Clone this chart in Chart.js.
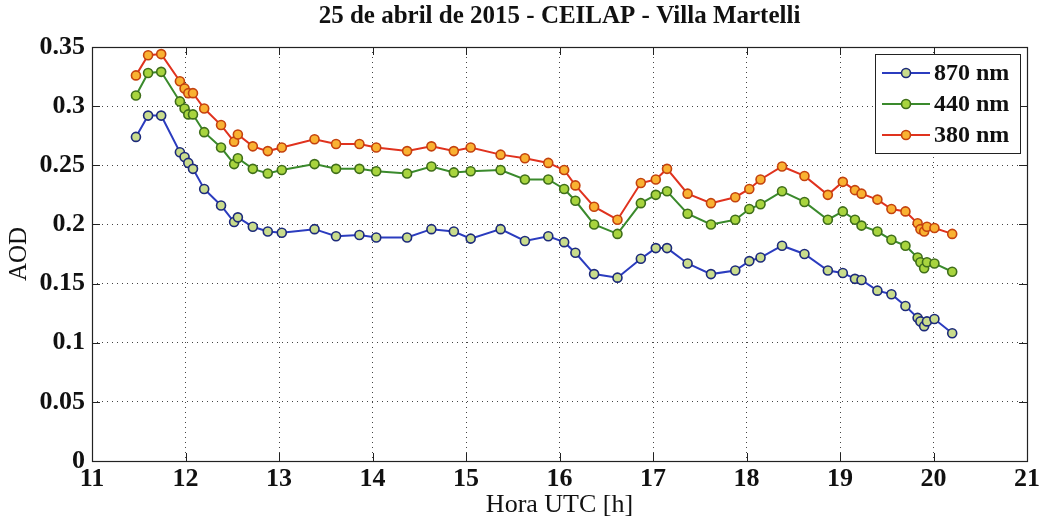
<!DOCTYPE html>
<html>
<head>
<meta charset="utf-8">
<script src="https://cdn.jsdelivr.net/npm/chart.js@4"></script>
<style>
  html, body { margin: 0; padding: 0; background: #fff; }
  #wrap { width: 1043px; height: 522px; }
</style>
</head>
<body>
<div id="wrap"><canvas id="aodChart" width="1043" height="522"></canvas></div>
<script>
//---------------------------------------------
// DATA
//---------------------------------------------
const hours = [11.47, 11.60, 11.74, 11.94, 11.99, 12.03, 12.08, 12.20, 12.38, 12.52,
               12.56, 12.72, 12.88, 13.03, 13.38, 13.61, 13.86, 14.04, 14.37, 14.63,
               14.87, 15.05, 15.37, 15.63, 15.88, 16.05, 16.17, 16.37, 16.62, 16.87,
               17.03, 17.15, 17.37, 17.62, 17.88, 18.03, 18.15, 18.38, 18.62, 18.87,
               19.03, 19.16, 19.23, 19.40, 19.55, 19.70, 19.83, 19.86, 19.90, 19.93,
               20.01, 20.20];

const aod870 = [0.274, 0.292, 0.292, 0.261, 0.257, 0.252, 0.247, 0.230, 0.216, 0.202,
                0.206, 0.198, 0.194, 0.193, 0.196, 0.190, 0.191, 0.189, 0.189, 0.196,
                0.194, 0.188, 0.196, 0.186, 0.190, 0.185, 0.176, 0.158, 0.155, 0.171,
                0.180, 0.180, 0.167, 0.158, 0.161, 0.169, 0.172, 0.182, 0.175, 0.161,
                0.159, 0.154, 0.153, 0.144, 0.141, 0.131, 0.121, 0.118, 0.114, 0.118,
                0.120, 0.108];

const aod440 = [0.309, 0.328, 0.329, 0.304, 0.298, 0.293, 0.293, 0.278, 0.265, 0.251,
                0.256, 0.247, 0.243, 0.246, 0.251, 0.247, 0.247, 0.245, 0.243, 0.249,
                0.244, 0.245, 0.246, 0.238, 0.238, 0.230, 0.220, 0.200, 0.192, 0.218,
                0.225, 0.228, 0.209, 0.200, 0.204, 0.213, 0.217, 0.228, 0.219, 0.204,
                0.211, 0.204, 0.199, 0.194, 0.187, 0.182, 0.172, 0.168, 0.163, 0.168,
                0.167, 0.160];

const aod380 = [0.326, 0.343, 0.344, 0.321, 0.315, 0.311, 0.311, 0.298, 0.284, 0.270,
                0.276, 0.266, 0.262, 0.265, 0.272, 0.268, 0.268, 0.265, 0.262, 0.266,
                0.262, 0.265, 0.259, 0.256, 0.252, 0.246, 0.233, 0.215, 0.204, 0.235,
                0.238, 0.247, 0.226, 0.218, 0.223, 0.230, 0.238, 0.249, 0.241, 0.225,
                0.236, 0.229, 0.226, 0.221, 0.213, 0.211, 0.201, 0.196, 0.194, 0.198,
                0.197, 0.192];

const seriesLabels = ["870 nm", "440 nm", "380 nm"];

const SERIF = "'Liberation Serif', 'Times New Roman', serif";

function toPoints(ys) {
    return hours.map((h, i) => ({ x: h, y: ys[i] }));
}

function makeSet(label, ys, line, fill, edge) {
    return {
        label: label,
        data: toPoints(ys),
        borderColor: line,
        borderWidth: 2,
        pointRadius: 4.5,
        pointBorderWidth: 1.6,
        pointBackgroundColor: fill,
        pointBorderColor: edge,
        tension: 0
    };
}

//---------------------------------------------
// PLUGINS: box + inward ticks, legend box
//---------------------------------------------
const frameTicks = {
    id: "frameTicks",
    afterDatasetsDraw(chart) {
        const { ctx, chartArea: a, scales } = chart;
        ctx.save();
        ctx.strokeStyle = "#222";
        ctx.lineWidth = 1;
        ctx.beginPath();
        scales.x.ticks.forEach(t => {
            const px = Math.round(scales.x.getPixelForValue(t.value)) + 0.5;
            ctx.moveTo(px, a.bottom); ctx.lineTo(px, a.bottom - 8);
            ctx.moveTo(px, a.top); ctx.lineTo(px, a.top + 8);
        });
        scales.y.ticks.forEach(t => {
            const py = Math.round(scales.y.getPixelForValue(t.value)) + 0.5;
            ctx.moveTo(a.left, py); ctx.lineTo(a.left + 8, py);
            ctx.moveTo(a.right, py); ctx.lineTo(a.right - 8, py);
        });
        ctx.stroke();
        ctx.lineWidth = 1.2;
        ctx.strokeRect(a.left + 0.5, a.top + 0.5, a.right - a.left, a.bottom - a.top);
        ctx.restore();
    }
};

const boxLegend = {
    id: "boxLegend",
    afterDraw(chart) {
        const { ctx, chartArea: a } = chart;
        const w = 145, h = 99;
        const x0 = a.right - 152, y0 = a.top + 7;
        ctx.save();
        ctx.fillStyle = "#fff";
        ctx.fillRect(x0, y0, w, h);
        ctx.strokeStyle = "#222";
        ctx.lineWidth = 1;
        ctx.strokeRect(x0 + 0.5, y0 + 0.5, w, h);
        ctx.font = "bold 24px " + SERIF;
        ctx.textBaseline = "middle";
        chart.data.datasets.forEach((ds, i) => {
            const cy = y0 + 19 + i * 31;
            ctx.strokeStyle = ds.borderColor;
            ctx.lineWidth = 2;
            ctx.beginPath();
            ctx.moveTo(x0 + 7, cy); ctx.lineTo(x0 + 55, cy);
            ctx.stroke();
            ctx.beginPath();
            ctx.arc(x0 + 31, cy, 4.5, 0, Math.PI * 2);
            ctx.fillStyle = ds.pointBackgroundColor;
            ctx.fill();
            ctx.lineWidth = 1.6;
            ctx.strokeStyle = ds.pointBorderColor;
            ctx.stroke();
            ctx.fillStyle = "#111";
            ctx.fillText(ds.label, x0 + 59, cy + 1);
        });
        ctx.restore();
    }
};

//---------------------------------------------
// CHART
//---------------------------------------------
function renderAodChart() {
    const ctx = document.getElementById("aodChart").getContext("2d");

    new Chart(ctx, {
        type: "line",
        data: {
            datasets: [
                makeSet(seriesLabels[0], aod870, "#2b3cbf", "#c9dc8c", "#1c2a7a"),
                makeSet(seriesLabels[1], aod440, "#3a8a2c", "#a8d43e", "#3f6e1a"),
                makeSet(seriesLabels[2], aod380, "#e0321e", "#f9b232", "#c4420e")
            ]
        },
        options: {
            responsive: false,
            animation: false,
            layout: { padding: { left: 0, right: 15, top: 0, bottom: 0 } },
            plugins: {
                legend: { display: false },
                tooltip: { enabled: false },
                title: {
                    display: true,
                    fullSize: false,
                    text: "25 de abril de 2015 - CEILAP - Villa Martelli",
                    color: "#111",
                    font: { family: SERIF, size: 25, weight: "bold", lineHeight: 1.2 },
                    padding: { top: 2, bottom: 15 }
                }
            },
            scales: {
                x: {
                    type: "linear",
                    min: 11,
                    max: 21,
                    ticks: {
                        stepSize: 1,
                        color: "#111",
                        padding: 3,
                        font: { family: SERIF, size: 26, weight: "bold" }
                    },
                    grid: { color: "#444", lineWidth: 1, drawTicks: false },
                    border: { display: false, dash: [1, 4] },
                    title: {
                        display: true,
                        text: "Hora UTC [h]",
                        color: "#111",
                        font: { family: SERIF, size: 26 },
                        padding: { top: 0, bottom: 1 }
                    },
                    afterFit(scale) { scale.height = 61; }
                },
                y: {
                    min: 0,
                    max: 0.35,
                    ticks: {
                        stepSize: 0.05,
                        color: "#111",
                        padding: 7,
                        font: { family: SERIF, size: 26, weight: "bold" },
                        callback: v => String(Number(v.toFixed(2)))
                    },
                    grid: { color: "#444", lineWidth: 1, drawTicks: false },
                    border: { display: false, dash: [1, 4] },
                    title: {
                        display: true,
                        text: "AOD",
                        color: "#111",
                        font: { family: SERIF, size: 25 },
                        padding: { top: 4, bottom: 0 }
                    },
                    afterFit(scale) { scale.width = 92; }
                }
            }
        },
        plugins: [frameTicks, boxLegend]
    });
}

document.addEventListener("DOMContentLoaded", () => {
    renderAodChart();
});
</script>
</body>
</html>
